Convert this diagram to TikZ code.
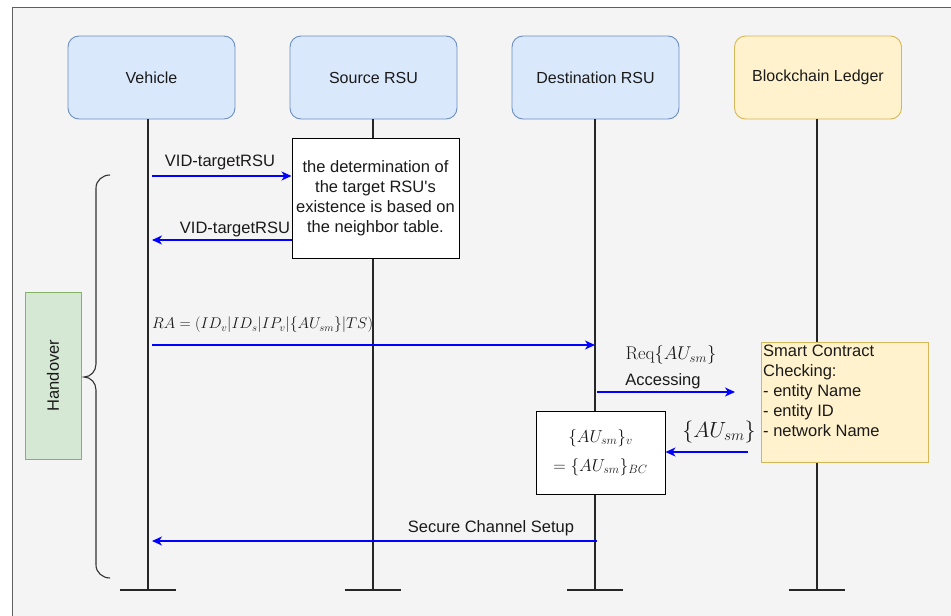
\documentclass[tikz,border=0pt]{standalone}
\usepackage{fontspec}
\setmainfont{Liberation Sans}
\usepackage{amsmath}
\usetikzlibrary{arrows.meta}
\definecolor{pagebg}{HTML}{F4F4F4}
\definecolor{frameline}{HTML}{5F5F5F}
\definecolor{actfill}{HTML}{DAE8FC}
\definecolor{actline}{HTML}{6C8EBF}
\definecolor{ledfill}{HTML}{FFF2CC}
\definecolor{ledline}{HTML}{D6B656}
\definecolor{grnfill}{HTML}{D5E8D4}
\definecolor{grnline}{HTML}{82B366}
\definecolor{msgblue}{HTML}{0000FF}
\definecolor{txt}{HTML}{1A1A1A}
\newcommand{\romanword}[1]{\text{\fontfamily{lmr}\selectfont #1}}
\tikzset{
  actor/.style={draw=actline, fill=actfill, rounded corners=11pt, minimum width=167pt,
    minimum height=83pt, line width=0.9pt, text=txt, font=\fontsize{16}{19}\selectfont},
  ledger/.style={actor, draw=ledline, fill=ledfill},
  lifeline/.style={draw=black!85, line width=1.2pt},
  endbar/.style={draw=black!85, line width=1.6pt},
  msg/.style={draw=msgblue, line width=1.1pt, -{Stealth[length=10pt,width=9pt,inset=3pt]}},
  msglabel/.style={text=txt, font=\fontsize{16.5}{19}\selectfont, inner sep=0pt},
  notebox/.style={draw=black, fill=white, line width=1pt, text=txt,
    font=\fontsize{16.5}{20}\selectfont, align=center, inner sep=0pt},
}
\begin{document}
\begin{tikzpicture}[x=1pt,y=-1pt]
\useasboundingbox (0,0) rectangle (951,616);
% canvas
\fill[white] (0,0) rectangle (951,616);
\begin{scope}
\clip (0,0) rectangle (951,616);
\draw[frameline, line width=1.8pt, fill=pagebg] (12.5,7.5) rectangle (960,630);
\end{scope}

% participants
\node[actor]  (veh) at (151.5,77.5) {Vehicle};
\node[actor]  (src) at (373.5,77.5) {Source RSU};
\node[actor]  (dst) at (595.5,77.5) {Destination RSU};
\node[ledger] (bc)  at (818,77.5) {Blockchain Ledger};

% lifeline ends
\coordinate (vehE) at (148,590);
\coordinate (srcE) at (373,590);
\coordinate (dstE) at (595,590);
\coordinate (bcE)  at (817,590);

\draw[lifeline] (veh.south -| vehE) -- (vehE);
\draw[lifeline] (src.south -| srcE) -- (srcE);
\draw[lifeline] (dst.south -| dstE) -- (dstE);
\draw[lifeline] (bc.south -| bcE) -- (bcE);
\foreach \e in {vehE,srcE,dstE,bcE}
  \draw[endbar] ([xshift=-28pt]\e) -- ([xshift=28pt]\e);

% notes on the lifelines
\node[notebox, minimum width=167pt, minimum height=120pt] (nb) at (375.5,198)
  {the determination of\\the target RSU\textquotesingle s\\existence is based on\\the neighbor table.};
\node[notebox, minimum width=129pt, minimum height=83pt, font=\fontsize{17.5}{29}\selectfont] (cmp) at (600.5,452.5)
  {$\{AU_{sm}\}_{v}$\\$=\{AU_{sm}\}_{BC}$};
\node[draw=ledline, fill=ledfill, line width=1pt, minimum width=167pt, minimum height=120pt,
  inner sep=0pt, anchor=north west] (sc) at (761,342) {};
\node[anchor=north west, align=left, text=txt, font=\fontsize{16.5}{20}\selectfont, inner sep=0pt]
  (sct) at (763,345) {Smart Contract\\Checking:\\- entity Name\\- entity ID\\- network Name};

% handover phase
\node[draw=grnline, fill=grnfill, line width=1pt, minimum width=56pt, minimum height=167pt,
  inner sep=0pt] (ho) at (53,375.5) {};
\node[rotate=90, text=txt, font=\fontsize{16.5}{19}\selectfont] (hot) at (ho.center) {Handover};
\coordinate (brT) at (110,175);
\coordinate (brB) at (110,578);
\draw[black!80, line width=1.1pt]
  (brT) to[out=180,in=90] (96,188) -- (96,364) to[out=-90,in=0] (84,377)
  to[out=0,in=90] (96,390) -- (96,565) to[out=-90,in=180] (brB);

% messages
\coordinate (m1a) at (152,176);
\draw[msg] (m1a) -- (nb.west |- m1a);
\node[msglabel] (l1) at (220,162) {VID-targetRSU};

\coordinate (m2a) at (152,240);
\draw[msg] (nb.west |- m2a) -- (m2a);
\node[msglabel] (l2) at (235,229) {VID-targetRSU};

\coordinate (m3a) at (152,345);
\coordinate (m3b) at (595,345);
\draw[msg] (m3a) -- (m3b);
\node[msglabel, anchor=west, font=\fontsize{17.28}{19}\selectfont] (l3) at (152,325)
  {\scalebox{0.9}{$RA=(ID_{v}|ID_{s}|IP_{v}|\{AU_{sm}\}|TS)$}};

\coordinate (m4a) at (597,392);
\coordinate (m4b) at (735,392);
\draw[msg] (m4a) -- (m4b);
\node[msglabel, font=\fontsize{17.28}{21}\selectfont] (l4) at (671,355)
  {\scalebox{1.07}{$\romanword{Req}\{AU_{sm}\}$}};
\node[msglabel] (l4b) at (663,381) {Accessing};

\coordinate (m5a) at (748,452);
\draw[msg] (m5a) -- (cmp.east |- m5a);
\node[msglabel, font=\fontsize{20.74}{24}\selectfont] (l5) at (719,432) {\scalebox{1.06}{$\{AU_{sm}\}$}};

\coordinate (m6a) at (597,541);
\coordinate (m6b) at (152,541);
\draw[msg] (m6a) -- (m6b);
\node[msglabel] (l6) at (491,528) {Secure Channel Setup};
\end{tikzpicture}
\end{document}
